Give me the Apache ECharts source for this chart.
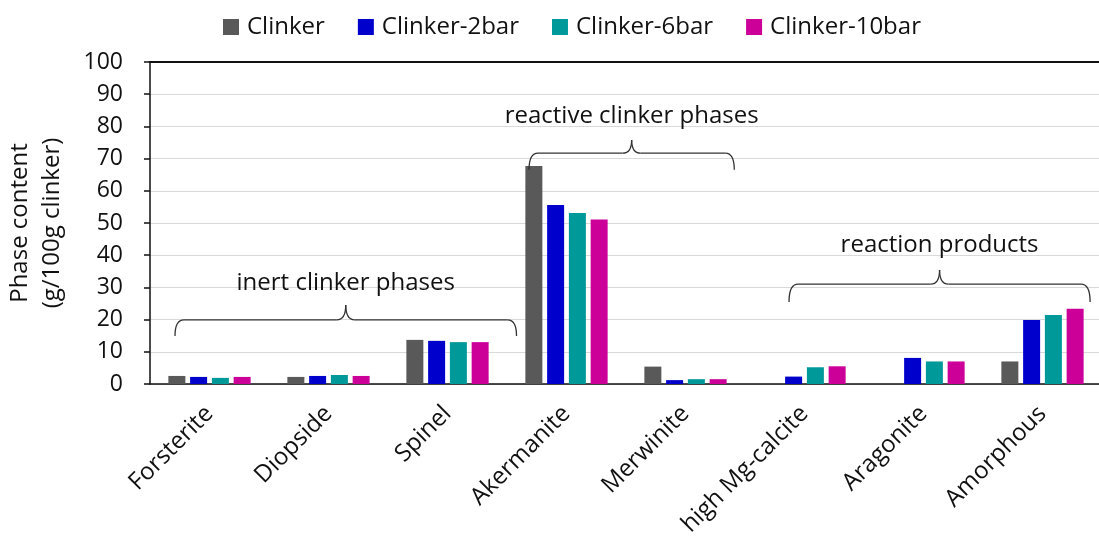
<!DOCTYPE html>
<html>
<head>
<meta charset="utf-8">
<script src="https://cdn.jsdelivr.net/npm/echarts@6/dist/echarts.min.js"></script>
<style>
  html, body { margin: 0; padding: 0; background: #fff; }
  #main { width: 1099px; height: 549px; }
</style>
</head>
<body>
<div id="main"></div>
<script>
var categories = ['Forsterite', 'Diopside', 'Spinel', 'Akermanite', 'Merwinite', 'high Mg-calcite', 'Aragonite', 'Amorphous'];
var clinker     = [2.5, 2.2, 13.7, 67.7, 5.4, 0, 0, 7.0];
var clinker2bar = [2.2, 2.5, 13.4, 55.6, 1.2, 2.3, 8.1, 19.9];
var clinker6bar = [1.9, 2.8, 13.0, 53.1, 1.5, 5.2, 7.0, 21.4];
var clinker10bar = [2.2, 2.5, 13.0, 51.1, 1.5, 5.5, 7.0, 23.4];
var yTicks = { min: 0, max: 100, interval: 10 };

// group annotations: category span (fractional index), brace level, text level
var braces = [
  { text: 'inert clinker phases',    from: -0.29, to: 2.58, level: 19.9, end: 14.9, tip: 24.5, label: 31.4 },
  { text: 'reactive clinker phases', from: 2.685, to: 4.41, level: 71.7, end: 66.5, tip: 75.8, label: 83.2 },
  { text: 'reaction products',       from: 4.87,  to: 7.40, level: 31.0, end: 25.5, tip: 35.4, label: 43.2 }
];

var FONT = 'Open Sans';
var myChart = echarts.init(document.getElementById('main'));

function bar(name, data, color) {
  return {
    name: name,
    type: 'bar',
    data: data,
    barWidth: 17,
    barGap: '28%',
    itemStyle: { color: color }
  };
}

var option = {
  animation: false,
  textStyle: { fontFamily: FONT },
  legend: {
    top: 10,
    left: 218,
    itemWidth: 16,
    itemHeight: 16,
    itemGap: 33,
    icon: 'rect',
    textStyle: { fontSize: 24, color: '#111', fontFamily: FONT, padding: [0, 0, 0, 3] },
    data: ['Clinker', 'Clinker-2bar', 'Clinker-6bar', 'Clinker-10bar']
  },
  grid: { left: 150, top: 62, width: 952, bottom: 165, containLabel: false, outerBoundsMode: 'none' },
  xAxis: [{
    type: 'category',
    data: categories,
    axisLine: { lineStyle: { color: '#111', width: 1.5 } },
    axisTick: { show: false },
    axisLabel: { rotate: 45, fontSize: 24, color: '#111', margin: 26, fontFamily: FONT, interval: 0 }
  }, {
    type: 'category',
    position: 'top',
    data: categories,
    axisLine: { show: true, lineStyle: { color: '#111', width: 2 } },
    axisTick: { show: false },
    axisLabel: { show: false }
  }],
  yAxis: {
    type: 'value',
    min: yTicks.min,
    max: yTicks.max,
    interval: yTicks.interval,
    name: 'Phase content\n(g/100g clinker)',
    nameLocation: 'middle',
    nameGap: 82,
    nameTextStyle: { fontSize: 24, color: '#111', fontFamily: FONT, lineHeight: 32 },
    axisLine: { show: true, lineStyle: { color: '#111', width: 1.5 } },
    axisTick: { show: true, length: 6, lineStyle: { color: '#111', width: 1.5 } },
    axisLabel: { fontSize: 23, color: '#111', margin: 27, fontFamily: FONT },
    splitLine: { lineStyle: { color: '#d9d9d9', width: 1 } }
  },
  series: [
    bar('Clinker', clinker, '#595959'),
    bar('Clinker-2bar', clinker2bar, '#0000cc'),
    bar('Clinker-6bar', clinker6bar, '#009999'),
    bar('Clinker-10bar', clinker10bar, '#cc0099')
  ]
};
myChart.setOption(option);

// braces placed through the axes' own scales
function xAt(idx) {
  var p0 = myChart.convertToPixel({ xAxisIndex: 0 }, 0);
  var p1 = myChart.convertToPixel({ xAxisIndex: 0 }, 1);
  return p0 + (p1 - p0) * idx;
}
function yAt(v) {
  return myChart.convertToPixel({ yAxisIndex: 0 }, v);
}
var lineStyle = { stroke: '#333', lineWidth: 1.3, fill: null };
var elements = [];
braces.forEach(function (b) {
  var x1 = xAt(b.from), x2 = xAt(b.to), xm = (x1 + x2) / 2;
  var h = yAt(b.level), e = yAt(b.end), t = yAt(b.tip);
  var r = 9;
  elements.push(
    { type: 'bezierCurve', shape: { x1: x1, y1: e, cpx1: x1, cpy1: h, x2: x1 + r, y2: h }, style: lineStyle, z: 10 },
    { type: 'line', shape: { x1: x1 + r, y1: h, x2: xm - r, y2: h }, style: lineStyle, z: 10 },
    { type: 'bezierCurve', shape: { x1: xm - r, y1: h, cpx1: xm, cpy1: h, x2: xm, y2: t }, style: lineStyle, z: 10 },
    { type: 'bezierCurve', shape: { x1: xm, y1: t, cpx1: xm, cpy1: h, x2: xm + r, y2: h }, style: lineStyle, z: 10 },
    { type: 'line', shape: { x1: xm + r, y1: h, x2: x2 - r, y2: h }, style: lineStyle, z: 10 },
    { type: 'bezierCurve', shape: { x1: x2 - r, y1: h, cpx1: x2, cpy1: h, x2: x2, y2: e }, style: lineStyle, z: 10 },
    {
      type: 'text',
      x: xm,
      y: yAt(b.label),
      style: {
        text: b.text,
        fontSize: 24,
        fontFamily: FONT,
        fill: '#111',
        align: 'center',
        verticalAlign: 'middle'
      },
      z: 10
    }
  );
});
myChart.setOption({ graphic: elements });
</script>
</body>
</html>
